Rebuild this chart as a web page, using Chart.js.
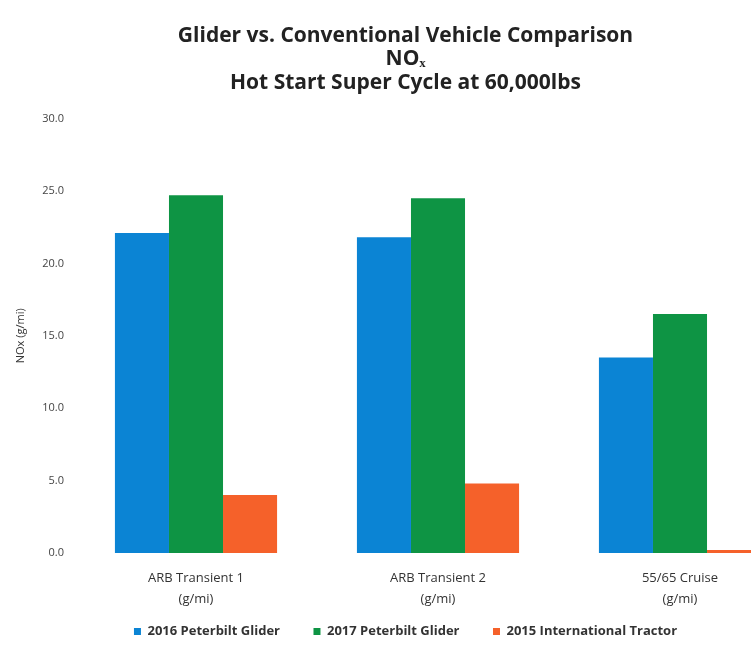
<!DOCTYPE html>
<html>
<head>
<meta charset="utf-8">
<script src="https://cdn.jsdelivr.net/npm/chart.js@4.4.1/dist/chart.umd.min.js"></script>
<style>
  html, body { margin: 0; padding: 0; background: #fff; overflow: hidden; }
  #wrap { width: 751px; height: 654px; overflow: hidden; }
</style>
</head>
<body>
<div id="wrap">
  <canvas id="noxChart" width="810" height="648"></canvas>
</div>
<script>
const categories = [
    ['ARB Transient 1', '(g/mi)'],
    ['ARB Transient 2', '(g/mi)'],
    ['55/65 Cruise', '(g/mi)']
];
const seriesNames = ['2016 Peterbilt Glider', '2017 Peterbilt Glider', '2015 International Tractor'];
const glider2016 = [22.1, 21.8, 13.5];
const glider2017 = [24.7, 24.5, 16.5];
const tractor2015 = [4.0, 4.8, 0.2];
const yTicks = [0, 5, 10, 15, 20, 25, 30];

const colors = ['#0b84d4', '#0e9444', '#f5612a'];

function createNoxChart(canvasId) {
    const seriesValues = [glider2016, glider2017, tractor2015];

    const datasets = seriesNames.map((name, i) => {
        return {
            label: name,
            data: seriesValues[i],
            backgroundColor: colors[i],
            borderWidth: 0,
            barPercentage: 1.0,
            categoryPercentage: 0.67
        };
    });

    const ctx = document.getElementById(canvasId).getContext('2d');
    new Chart(ctx, {
        type: 'bar',
        data: {
            labels: categories,
            datasets: datasets
        },
        options: {
            responsive: false,
            animation: false,
            layout: {
                padding: { left: 10, right: 9, top: 0, bottom: 0 }
            },
            plugins: {
                title: {
                    display: true,
                    text: ['Glider vs. Conventional Vehicle Comparison', 'NO\u2093', 'Hot Start Super Cycle at 60,000lbs'],
                    color: '#222',
                    font: { family: 'Open Sans', size: 21, weight: 'bold', lineHeight: 1.12 },
                    padding: { top: 24, bottom: 24 }
                },
                legend: {
                    position: 'bottom',
                    labels: {
                        boxWidth: 7,
                        boxHeight: 7,
                        padding: 14,
                        color: '#333',
                        font: { family: 'Open Sans', size: 13, weight: 'bold' },
                        // wider gaps between items than the vertical padding allows
                        generateLabels: function (chart) {
                            const items = Chart.defaults.plugins.legend.labels.generateLabels(chart);
                            items.forEach((item, i) => {
                                if (i < items.length - 1) item.text = item.text + '\u2002\u2002\u2002';
                            });
                            return items;
                        }
                    }
                },
                tooltip: { enabled: false }
            },
            scales: {
                x: {
                    afterFit: function (scale) {
                        scale.height = 58;
                    },
                    grid: { display: false },
                    border: { display: false },
                    ticks: {
                        color: '#333',
                        padding: 7,
                        maxRotation: 0,
                        font: { family: 'Open Sans', size: 13, lineHeight: 1.62 }
                    }
                },
                y: {
                    min: 0,
                    max: 30,
                    afterFit: function (scale) {
                        scale.width = 65;
                    },
                    afterBuildTicks: function (scale) {
                        scale.ticks = yTicks.map(v => ({ value: v }));
                    },
                    grid: { display: false, drawTicks: false },
                    border: { display: false },
                    title: {
                        display: true,
                        text: 'NOx (g/mi)',
                        color: '#333',
                        font: { family: 'Open Sans', size: 11 },
                        padding: { top: 4, bottom: 0 }
                    },
                    ticks: {
                        color: '#444',
                        padding: 11,
                        font: { family: 'Open Sans', size: 11 },
                        callback: function (value) {
                            return Number(value).toFixed(1);
                        }
                    }
                }
            }
        }
    });
}

document.addEventListener('DOMContentLoaded', function () {
    createNoxChart('noxChart');
});
</script>
</body>
</html>
